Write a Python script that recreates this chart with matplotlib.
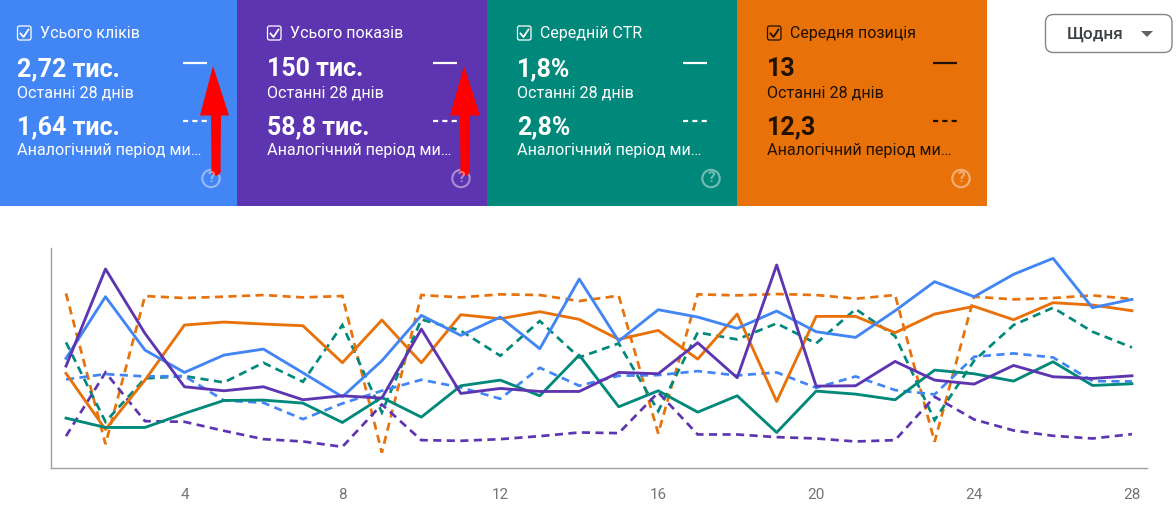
import matplotlib
matplotlib.use("Agg")
import matplotlib.pyplot as plt
from matplotlib.patches import Rectangle, Polygon, Circle, FancyBboxPatch

plt.rcParams["font.family"] = ["Roboto", "DejaVu Sans"]

W, H = 1176, 521

days = list(range(1, 29))
tick_days = [4, 8, 12, 16, 20, 24, 28]

# heights, the y axis has no labels
clicks = [327, 512, 352, 285, 337, 355, 284, 212, 320, 456, 396, 451, 356, 565, 379, 473, 451, 417, 469, 407, 390, 470, 557, 512, 579, 627, 479, 504]
impressions = [304, 595, 402, 242, 230, 242, 203, 215, 208, 415, 222, 237, 228, 228, 285, 281, 374, 269, 607, 244, 245, 318, 262, 250, 306, 272, 267, 275]
ctr = [148, 120, 120, 162, 201, 202, 193, 135, 210, 151, 245, 262, 215, 337, 182, 230, 166, 215, 105, 229, 220, 203, 292, 281, 259, 317, 246, 251]
position = [282, 114, 262, 427, 436, 430, 425, 314, 442, 314, 458, 446, 467, 444, 384, 411, 325, 460, 198, 453, 453, 404, 460, 483, 443, 494, 487, 470]

clicks_prev = [264, 280, 273, 274, 201, 194, 145, 192, 230, 263, 240, 206, 299, 245, 275, 277, 289, 276, 285, 239, 273, 232, 219, 332, 342, 330, 259, 258]
impressions_prev = [94, 285, 139, 137, 110, 85, 78, 62, 189, 82, 80, 85, 94, 105, 103, 225, 99, 99, 91, 87, 78, 82, 212, 144, 111, 95, 87, 100]
ctr_prev = [375, 137, 267, 274, 255, 314, 257, 427, 165, 444, 410, 335, 439, 330, 372, 169, 405, 384, 432, 372, 475, 394, 142, 320, 427, 479, 407, 360]
position_prev = [522, 70, 514, 508, 512, 517, 510, 514, 45, 517, 510, 519, 517, 499, 515, 102, 519, 516, 520, 517, 506, 517, 77, 512, 504, 508, 516, 505]

BLUE = "#4285f4"
PURPLE = "#5e35b1"
TEAL = "#00897b"
ORANGE = "#e8710a"

card_titles = ["Усього кліків", "Усього показів", "Середній CTR", "Середня позиція"]
card_current = ["2,72 тис.", "150 тис.", "1,8%", "13"]
card_previous = ["1,64 тис.", "58,8 тис.", "2,8%", "12,3"]
card_colors = [BLUE, PURPLE, TEAL, ORANGE]
card_text = ["white", "white", "white", "#1f1000"]
label_current = "Останні 28 днів"
label_previous = "Аналогічний період ми…"

fig = plt.figure(figsize=(W / 100, H / 100), dpi=100)

# line chart
ax = fig.add_axes([51 / W, 1 - 467.5 / H, (1147 - 51) / W, (467.5 - 248) / H])
for values, color in [(position_prev, ORANGE), (ctr_prev, TEAL), (impressions_prev, PURPLE), (clicks_prev, BLUE)]:
    ax.plot(days, values, color=color, lw=1.95, dashes=(3.0, 2.0), dash_joinstyle="miter")
for values, color in [(position, ORANGE), (ctr, TEAL), (clicks, BLUE), (impressions, PURPLE)]:
    ax.plot(days, values, color=color, lw=2.05)
ax.set_xlim(0.62, 28.38)
ax.set_ylim(0, 658)
ax.set_yticks([])
ax.set_xticks(tick_days)
ax.tick_params(axis="x", length=0, pad=15, labelsize=11, labelcolor="#70757a")
for side in ["top", "right"]:
    ax.spines[side].set_visible(False)
for side in ["left", "bottom"]:
    ax.spines[side].set_color("#a0a0a0")
    ax.spines[side].set_linewidth(1.0)

# cards on top, drawn in pixel coordinates
top = fig.add_axes([0, 0, 1, 1], facecolor="none")
top.set_xlim(0, W)
top.set_ylim(H, 0)
top.axis("off")

card_w = 250
for i, title in enumerate(card_titles):
    x0 = 237 + (i - 1) * card_w if i else 0
    w = 237 if i == 0 else card_w
    tx = 17 + i * card_w
    c = card_text[i]
    top.add_patch(Rectangle((x0, 0), w, 206, color=card_colors[i], lw=0))
    top.add_patch(FancyBboxPatch((tx + 0.5, 26), 13.5, 14, boxstyle="round,pad=0,rounding_size=2",
                                 fc="none", ec=c, lw=0.9))
    top.plot([tx + 3.5, tx + 6.5, tx + 11.5], [33.5, 37, 29.5], color=c, lw=1.3)
    top.text(tx + 23.5, 33.5, title, color=c, fontsize=11.5, va="center")
    top.text(tx, 69.5, card_current[i], color=c, fontsize=18, fontweight="bold", va="center")
    top.text(tx, 92.5, label_current, color=c, fontsize=11.6, va="center")
    top.text(tx, 127.5, card_previous[i], color=c, fontsize=18, fontweight="bold", va="center")
    top.text(tx, 150.5, label_previous, color=c, fontsize=11.6, va="center")
    top.plot([tx + 166, tx + 190], [62.5, 62.5], color=c, lw=1.6, solid_capstyle="butt")
    top.plot([tx + 166, tx + 190], [121, 121], color=c, lw=1.6, dashes=(2.3, 1.9))
    top.add_patch(Circle((tx + 194, 178.5), 8.7, fc="none", ec=c if i < 3 else "white", lw=1.5, alpha=0.45))
    top.text(tx + 194, 178.5, "?", color=c if i < 3 else "white", alpha=0.45, fontsize=11,
             fontweight="bold", ha="center", va="center")

# red arrows drawn over the screenshot
for tip, left, right, tail in [(213, 200, 229, 216), (464, 450, 480, 465)]:
    top.add_patch(Polygon([(tip, 66), (right, 115.5), (tail + 5, 115.5), (tail + 4.5, 172),
                           (tail - 4.5, 172), (tail - 5, 115.5), (left, 115.5)], closed=True,
                          color="#ff0000", lw=0))
    top.add_patch(Circle((tail, 171), 4.6, color="#ff0000", lw=0))

# period selector
top.add_patch(FancyBboxPatch((1045.5, 14.5), 126.5, 38, boxstyle="round,pad=0,rounding_size=8",
                             fc="white", ec="#80868b", lw=1.0))
top.text(1067, 34, "Щодня", color="#3c4043", fontsize=12.3, fontweight="medium", va="center")
top.add_patch(Polygon([(1141, 31), (1153, 31), (1147, 37)], closed=True, color="#5f6368", lw=0))

fig.savefig("out.png", dpi=100)
